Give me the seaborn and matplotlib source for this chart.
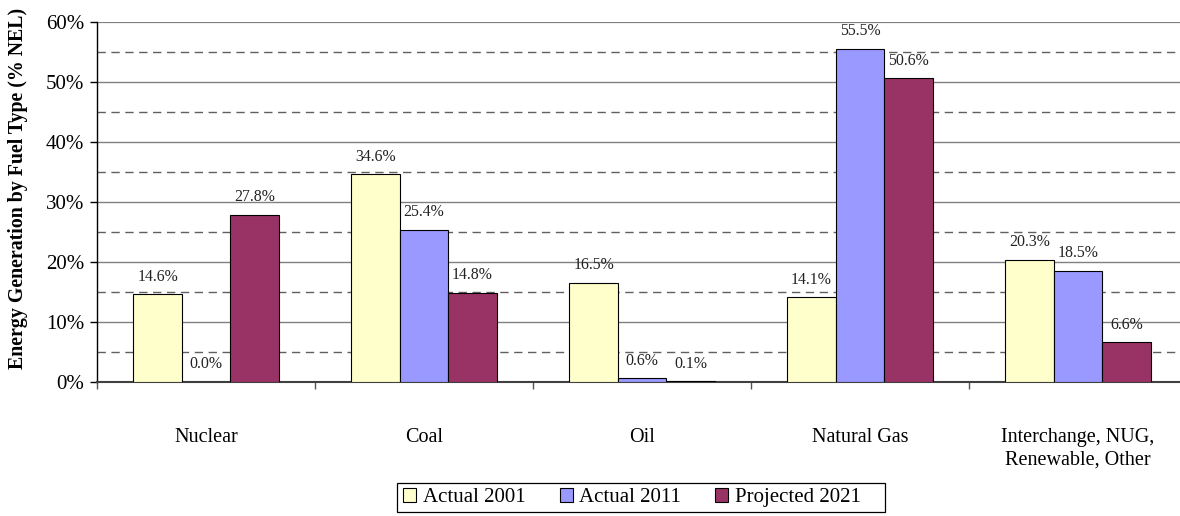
import matplotlib
matplotlib.use("Agg")
import matplotlib.pyplot as plt
from matplotlib.patches import Rectangle
from matplotlib.ticker import MultipleLocator, FuncFormatter, FixedLocator
import seaborn as sns
import pandas as pd

categories = ["Nuclear", "Coal", "Oil", "Natural Gas",
              "Interchange, NUG,\nRenewable, Other"]
series = ["Actual 2001", "Actual 2011", "Projected 2021"]
actual_2001 = [14.6, 34.6, 16.5, 14.1, 20.3]
actual_2011 = [0.0, 25.4, 0.6, 55.5, 18.5]
projected_2021 = [27.8, 14.8, 0.1, 50.6, 6.6]
colors = ["#FFFFCC", "#9999FF", "#993366"]

df = pd.DataFrame({
    "Fuel": categories * 3,
    "Series": [s for s in series for _ in categories],
    "Value": actual_2001 + actual_2011 + projected_2021,
})

sns.set_theme(style="white")
plt.rcParams["font.family"] = ["Liberation Serif", "DejaVu Serif"]
plt.rcParams["text.color"] = "black"
plt.rcParams["xtick.color"] = "black"
plt.rcParams["ytick.color"] = "black"
plt.rcParams["axes.labelcolor"] = "black"

W, H = 1180, 516
fig = plt.figure(figsize=(W / 100, H / 100), dpi=100)
ax = fig.add_axes([97 / W, 1 - 382 / H, 1090 / W, 360 / H])

sns.barplot(data=df, x="Fuel", y="Value", hue="Series", palette=colors,
            order=categories, hue_order=series, width=0.667, saturation=1,
            edgecolor="black", linewidth=0.8, ax=ax, legend=True, zorder=3)

ax.set_ylim(0, 60)
ax.set_xlim(-0.5, len(categories) - 0.5)

# grid: solid at every 10%, dashed at the 5% midpoints
for v in range(10, 61, 10):
    ax.axhline(v, color="#808080", lw=1.0 if v < 60 else 1.6, zorder=1)
for v in range(5, 60, 10):
    ax.axhline(v, color="#606060", lw=1.0, ls=(0, (6, 4)), zorder=1)

ax.yaxis.set_major_locator(MultipleLocator(10))
ax.yaxis.set_major_formatter(FuncFormatter(lambda v, _: f"{v:.0f}%"))
ax.tick_params(axis="y", which="major", left=True, length=5, width=1,
               color="black", labelsize=15, pad=4)

ax.tick_params(axis="x", which="major", length=0, labelsize=14.5, pad=33)
ax.xaxis.set_minor_locator(FixedLocator([i + 0.5 for i in range(-1, len(categories))]))
ax.tick_params(axis="x", which="minor", bottom=True, length=5, width=1,
               color="#555555")
for lbl in ax.get_xticklabels():
    lbl.set_verticalalignment("top")
    lbl.set_linespacing(1.3)

for side in ["top", "right"]:
    ax.spines[side].set_visible(False)
ax.spines["left"].set_color("black")
ax.spines["left"].set_linewidth(1.0)
ax.spines["bottom"].set_color("#404040")
ax.spines["bottom"].set_linewidth(1.5)

ax.set_xlabel("")
ax.set_ylabel("Energy Generation by Fuel Type (% NEL)", fontsize=14.3,
              fontweight="bold")
ax.yaxis.set_label_coords((28 - 97) / 1090, (382 - 188) / 360)

for cont in ax.containers:
    ax.bar_label(cont, fmt="%.1f%%", padding=7, fontsize=11.4, color="#222222")

# legend entries without their own frame, boxed by a separate outline
handles, labels = ax.get_legend_handles_labels()
ax.legend(handles, labels, loc="center left",
          bbox_to_anchor=(397 / W, 1 - 497.5 / H),
          bbox_transform=fig.transFigure, ncol=3, frameon=False,
          fontsize=15, handlelength=0.63, handleheight=0.63,
          handletextpad=0.3, columnspacing=1.65, borderpad=0.3,
          borderaxespad=0, title=None)
for h in ax.get_legend().legend_handles:
    h.set_linewidth(0.8)
fig.patches.append(Rectangle((397 / W, 1 - 512 / H), (885 - 397) / W, 29 / H,
                             transform=fig.transFigure, fill=False,
                             edgecolor="black", linewidth=0.9))

fig.savefig("out.png", dpi=100)
